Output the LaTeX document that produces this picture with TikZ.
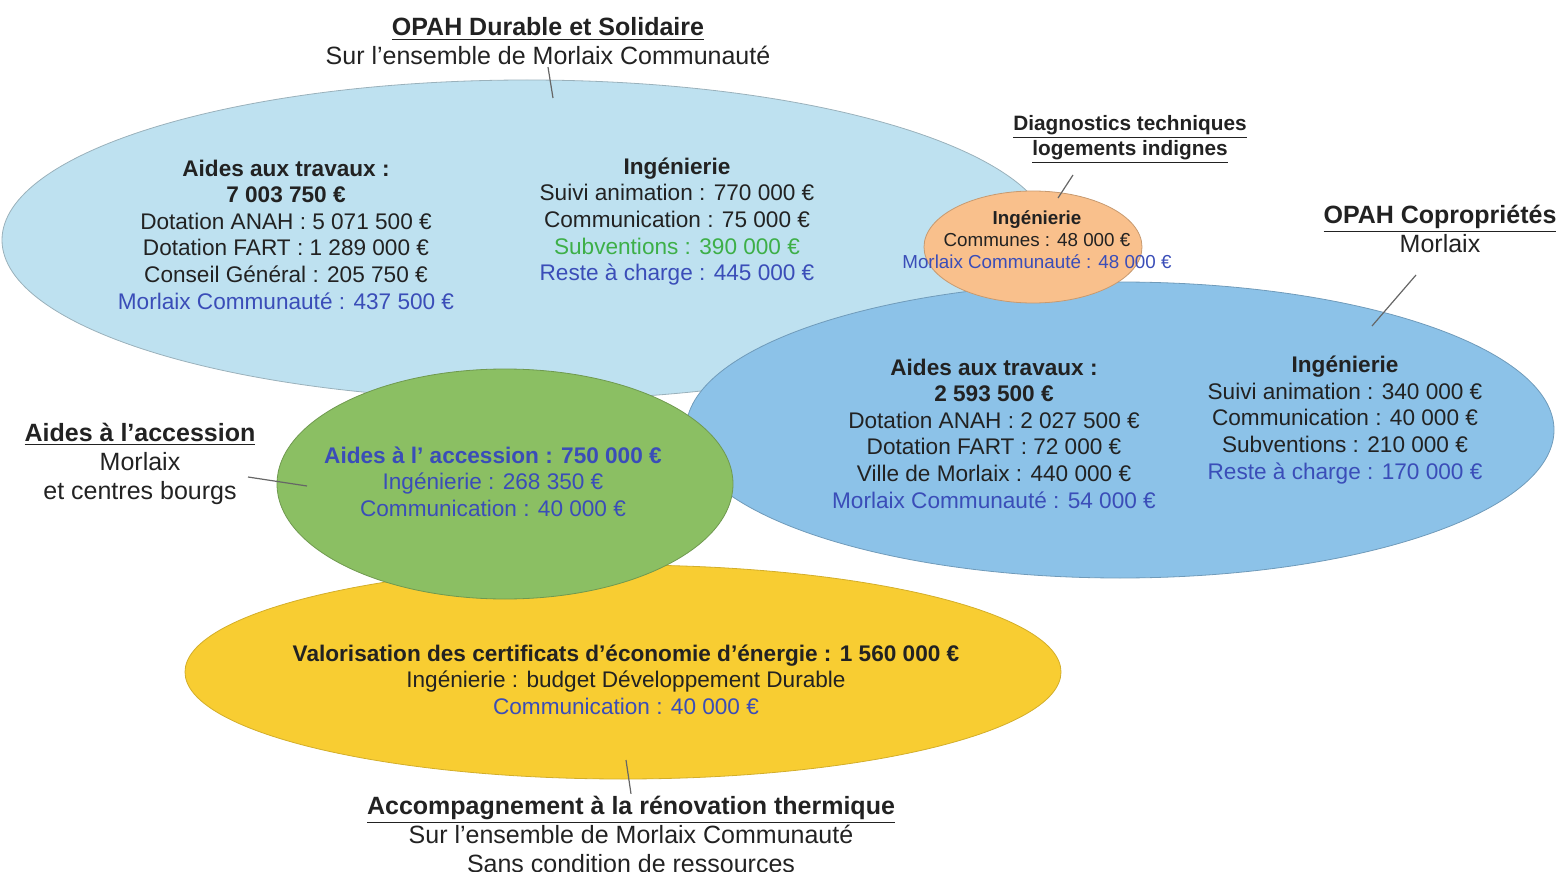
\documentclass[tikz,border=0pt]{standalone}
\usepackage{fontspec}
\setmainfont{Liberation Sans}
\usepackage{xcolor}
\usepackage{tikz}
\usetikzlibrary{shapes, positioning}

\definecolor{bleuClair}{RGB}{190,225,240}
\definecolor{bleuMoyen}{RGB}{140,194,232}
\definecolor{orangeDiag}{RGB}{249,192,140}
\definecolor{vertAcc}{RGB}{139,191,99}
\definecolor{jauneCEE}{RGB}{248,205,50}
\definecolor{texteBleu}{RGB}{58,77,184}
\definecolor{texteVert}{RGB}{61,175,72}
\definecolor{texteNoir}{RGB}{34,34,34}

\newcommand{\corps}{\fontsize{11.3}{13.3}\selectfont}
\newcommand{\titre}{\fontsize{12.5}{14.5}\selectfont}
\newcommand{\petit}{\fontsize{10.4}{12.5}\selectfont}
\newcommand{\mini}{\fontsize{9.4}{11}\selectfont}

\begin{document}
\begin{tikzpicture}[x=0.5pt,y=0.5pt,yscale=-1,xscale=1,
  zone/.style={ellipse, inner sep=0pt, line width=0.4pt},
  bloc/.style={align=center, inner sep=0.75pt, text=texteNoir, font=\corps},
  etiquette/.style={align=center, inner sep=0.75pt, text=texteNoir, font=\titre},
  filet/.style={draw=black!60, line width=0.6pt}]
\useasboundingbox (0,0) rectangle (1560,872);

%Shape: Ellipse [OPAH Durable]
\node [zone, fill=bleuClair, draw=bleuClair!75!black!90, minimum width=525pt, minimum height=160pt] (opah) at (527,240) {};
%Shape: Ellipse [renovation thermique]
\node [zone, fill=jauneCEE, draw=jauneCEE!85!black, minimum width=438pt, minimum height=107pt] (cee) at (623,672) {};
%Shape: Ellipse [OPAH Coproprietes]
\node [zone, fill=bleuMoyen, draw=bleuMoyen!80!black, minimum width=434pt, minimum height=148pt] (copro) at (1120,430) {};
%Shape: Ellipse [diagnostics]
\node [zone, fill=orangeDiag, draw=orangeDiag!80!black, minimum width=109pt, minimum height=56pt] (diag) at (1033,247) {};
%Shape: Ellipse [accession]
\node [zone, fill=vertAcc, draw=vertAcc!80!black, minimum width=228pt, minimum height=115pt] (acces) at (505,484) {};

% Text Node
\node [etiquette] (tOpah) at (548,41.5) {\underline{\textbf{OPAH Durable et Solidaire}}\\Sur l'ensemble de Morlaix Communauté};
% Text Node
\node [bloc] (opahTravaux) at (286,234.5) {\textbf{Aides aux travaux :}\\\textbf{7 003 750 €}\\Dotation ANAH : 5 071 500 €\\Dotation FART : 1 289 000 €\\Conseil Général : 205 750 €\\\textcolor{texteBleu}{Morlaix Communauté : 437 500 €}};
% Text Node
\node [bloc] (opahIng) at (677,221.5) {\textbf{Ingénierie}\\Suivi animation : 770 000 €\\Communication : 75 000 €\\\textcolor{texteVert}{Subventions : 390 000 €}\\\textcolor{texteBleu}{Reste à charge : 445 000 €}};
% Text Node
\node [etiquette, font=\petit] (tDiag) at (1130,139.5) {\underline{\textbf{Diagnostics techniques}}\\\underline{\textbf{logements indignes}}};
% Text Node
\node [bloc, font=\mini] (diagIng) at (1037,240) {\textbf{Ingénierie}\\Communes : 48 000 €\\\textcolor{texteBleu}{Morlaix Communauté : 48 000 €}};
% Text Node
\node [etiquette] (tCopro) at (1440,229) {\underline{\textbf{OPAH Copropriétés}}\\Morlaix};
% Text Node
\node [bloc] (coproTravaux) at (994,433.5) {\textbf{Aides aux travaux :}\\\textbf{2 593 500 €}\\Dotation ANAH : 2 027 500 €\\Dotation FART : 72 000 €\\Ville de Morlaix : 440 000 €\\\textcolor{texteBleu}{Morlaix Communauté : 54 000 €}};
% Text Node
\node [bloc] (coproIng) at (1345,420) {\textbf{Ingénierie}\\Suivi animation : 340 000 €\\Communication : 40 000 €\\Subventions : 210 000 €\\\textcolor{texteBleu}{Reste à charge : 170 000 €}};
% Text Node
\node [etiquette] (tAcces) at (140,464) {\underline{\textbf{Aides à l'accession}}\\Morlaix\\et centres bourgs};
% Text Node
\node [bloc, text=texteBleu] (accesTexte) at (493,481.5) {\textbf{Aides à l' accession : 750 000 €}\\Ingénierie : 268 350 €\\Communication : 40 000 €};
% Text Node
\node [bloc] (ceeTexte) at (626,679.5) {\textbf{Valorisation des certificats d'économie d'énergie : 1 560 000 €}\\Ingénierie : budget Développement Durable\\\textcolor{texteBleu}{Communication : 40 000 €}};
% Text Node
\node [etiquette] (tReno) at (631,834) {\underline{\textbf{Accompagnement à la rénovation thermique}}\\Sur l'ensemble de Morlaix Communauté\\Sans condition de ressources};

%Straight Lines [leaders]
\coordinate (pOpah) at (553,98);
\coordinate (pDiagA) at (1073,175);
\coordinate (pDiagB) at (1058,198);
\coordinate (pCoproA) at (1416,275);
\coordinate (pCoproB) at (1372,326);
\coordinate (pAccesA) at (248,477);
\coordinate (pAccesB) at (307,486);
\coordinate (pReno) at (626,760);
\draw [filet] (tOpah.south) -- (pOpah);
\draw [filet] (pDiagA) -- (pDiagB);
\draw [filet] (pCoproA) -- (pCoproB);
\draw [filet] (pAccesA) -- (pAccesB);
\draw [filet] (pReno) -- (tReno.north);

\end{tikzpicture}
\end{document}
